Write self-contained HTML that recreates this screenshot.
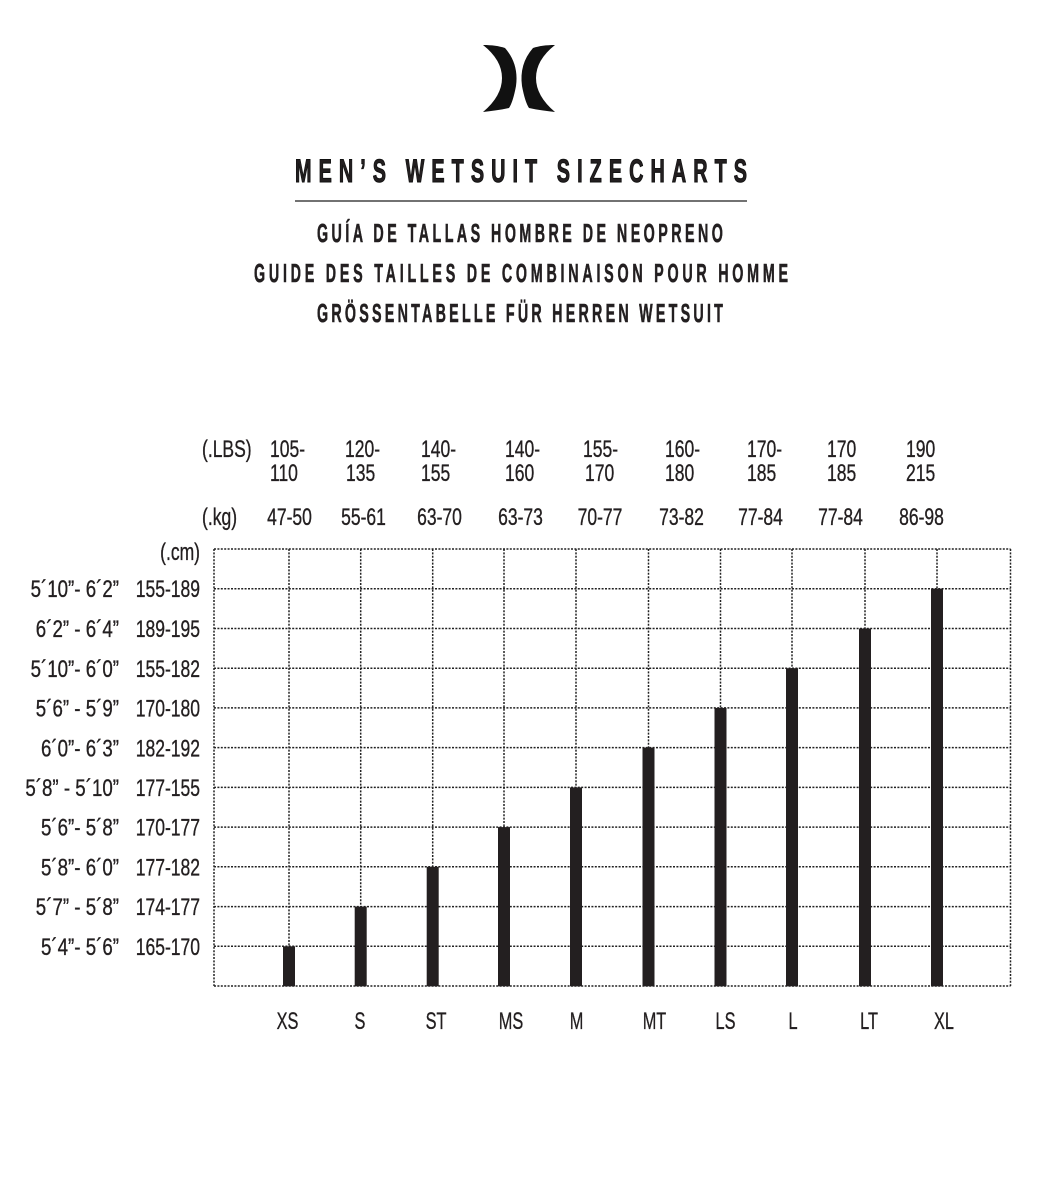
<!DOCTYPE html>
<html><head><meta charset="utf-8"><style>
html,body{margin:0;padding:0;background:#fff;}
svg{display:block;}
text{font-family:"Liberation Sans",Arial,sans-serif;fill:#231f20;}
.t{font-size:24px;stroke:#231f20;stroke-width:0.35px;}
</style></head><body>
<svg width="1037" height="1200" viewBox="0 0 1037 1200" xmlns="http://www.w3.org/2000/svg">
<rect width="1037" height="1200" fill="#fff"/>
<!-- logo -->
<path d="M483,45 C492,45 499,46 505,48 Q519,64 516,86 Q513,102 509,108 C500,110 491,111 483,112 Q502,96 502,78 Q502,60 483,45 Z" fill="#111"/>
<path d="M555,45 C546,45 539,46 533,48 Q519,64 522,86 Q525,102 529,108 C538,110 547,111 555,112 Q536,96 536,78 Q536,60 555,45 Z" fill="#111"/>
<!-- title -->
<text transform="translate(295,182) scale(0.62,1)" x="0" y="0" font-size="32" font-weight="bold" stroke="#111" stroke-width="1" textLength="729" lengthAdjust="spacing">MEN’S WETSUIT SIZECHARTS</text>
<line x1="295" y1="201" x2="747" y2="201" stroke="#444" stroke-width="1.6"/>
<text transform="translate(317,242) scale(0.55,1)" x="0" y="0" font-size="26" font-weight="bold" stroke="#231f20" stroke-width="0.6" textLength="738" lengthAdjust="spacing">GUÍA DE TALLAS HOMBRE DE NEOPRENO</text>
<text transform="translate(254,282) scale(0.55,1)" x="0" y="0" font-size="26" font-weight="bold" stroke="#231f20" stroke-width="0.6" textLength="971" lengthAdjust="spacing">GUIDE DES TAILLES DE COMBINAISON POUR HOMME</text>
<text transform="translate(317,322) scale(0.55,1)" x="0" y="0" font-size="26" font-weight="bold" stroke="#231f20" stroke-width="0.6" textLength="738" lengthAdjust="spacing">GRÖSSENTABELLE FÜR HERREN WETSUIT</text>

<!-- grid -->
<g stroke="#222" stroke-width="1.5" stroke-dasharray="2 1.4" fill="none">
<line x1="214" y1="549" x2="1010.5" y2="549"/>
<line x1="214" y1="588.7" x2="1010.5" y2="588.7"/>
<line x1="214" y1="628.5" x2="1010.5" y2="628.5"/>
<line x1="214" y1="668.2" x2="1010.5" y2="668.2"/>
<line x1="214" y1="707.9" x2="1010.5" y2="707.9"/>
<line x1="214" y1="747.6" x2="1010.5" y2="747.6"/>
<line x1="214" y1="787.4" x2="1010.5" y2="787.4"/>
<line x1="214" y1="827.1" x2="1010.5" y2="827.1"/>
<line x1="214" y1="866.8" x2="1010.5" y2="866.8"/>
<line x1="214" y1="906.6" x2="1010.5" y2="906.6"/>
<line x1="214" y1="946.3" x2="1010.5" y2="946.3"/>
<line x1="214" y1="986" x2="1010.5" y2="986"/>
<line x1="214" y1="549" x2="214" y2="986"/>
<line x1="289" y1="549" x2="289" y2="986"/>
<line x1="360.7" y1="549" x2="360.7" y2="986"/>
<line x1="432.7" y1="549" x2="432.7" y2="986"/>
<line x1="504" y1="549" x2="504" y2="986"/>
<line x1="576" y1="549" x2="576" y2="986"/>
<line x1="648.5" y1="549" x2="648.5" y2="986"/>
<line x1="720.5" y1="549" x2="720.5" y2="986"/>
<line x1="792" y1="549" x2="792" y2="986"/>
<line x1="865" y1="549" x2="865" y2="986"/>
<line x1="937" y1="549" x2="937" y2="986"/>
<line x1="1010.5" y1="549" x2="1010.5" y2="986"/>
</g>

<!-- bars -->
<g fill="#231f20">
<rect x="283" y="946.3" width="12" height="40"/>
<rect x="354.7" y="906.6" width="12" height="79.7"/>
<rect x="426.7" y="866.8" width="12" height="119.5"/>
<rect x="498" y="827.1" width="12" height="159.2"/>
<rect x="570" y="787.4" width="12" height="198.9"/>
<rect x="642.5" y="747.6" width="12" height="238.7"/>
<rect x="714.5" y="707.9" width="12" height="278.4"/>
<rect x="786" y="668.2" width="12" height="318.1"/>
<rect x="859" y="628.5" width="12" height="357.8"/>
<rect x="931" y="588.7" width="12" height="397.6"/>
</g>

<!-- LBS row -->
<g class="t">
<text transform="translate(202,457) scale(0.73,1)">(.LBS)</text>
<text transform="translate(270,457) scale(0.73,1)">105-</text>
<text transform="translate(270,481) scale(0.73,1)">110</text>
<text transform="translate(345,457) scale(0.73,1)">120-</text>
<text transform="translate(346,481) scale(0.73,1)">135</text>
<text transform="translate(421,457) scale(0.73,1)">140-</text>
<text transform="translate(421,481) scale(0.73,1)">155</text>
<text transform="translate(505,457) scale(0.73,1)">140-</text>
<text transform="translate(505,481) scale(0.73,1)">160</text>
<text transform="translate(583,457) scale(0.73,1)">155-</text>
<text transform="translate(585,481) scale(0.73,1)">170</text>
<text transform="translate(665,457) scale(0.73,1)">160-</text>
<text transform="translate(665,481) scale(0.73,1)">180</text>
<text transform="translate(747,457) scale(0.73,1)">170-</text>
<text transform="translate(747,481) scale(0.73,1)">185</text>
<text transform="translate(827,457) scale(0.73,1)">170</text>
<text transform="translate(827,481) scale(0.73,1)">185</text>
<text transform="translate(906,457) scale(0.73,1)">190</text>
<text transform="translate(906,481) scale(0.73,1)">215</text>
</g>

<!-- kg row -->
<g class="t" text-anchor="middle">
<text transform="translate(202,525) scale(0.73,1)" text-anchor="start">(.kg)</text>
<text transform="translate(289.5,525) scale(0.73,1)">47-50</text>
<text transform="translate(363.5,525) scale(0.73,1)">55-61</text>
<text transform="translate(439.5,525) scale(0.73,1)">63-70</text>
<text transform="translate(520.5,525) scale(0.73,1)">63-73</text>
<text transform="translate(600,525) scale(0.73,1)">70-77</text>
<text transform="translate(681.5,525) scale(0.73,1)">73-82</text>
<text transform="translate(760.5,525) scale(0.73,1)">77-84</text>
<text transform="translate(840.5,525) scale(0.73,1)">77-84</text>
<text transform="translate(921.5,525) scale(0.73,1)">86-98</text>
</g>

<!-- left labels -->
<g class="t" text-anchor="end">
<text transform="translate(200,560) scale(0.73,1)">(.cm)</text>
<text transform="translate(119,597) scale(0.78,1)">5´10”- 6´2”</text>
<text transform="translate(200,597) scale(0.73,1)">155-189</text>
<text transform="translate(119,637) scale(0.78,1)">6´2” - 6´4”</text>
<text transform="translate(200,637) scale(0.73,1)">189-195</text>
<text transform="translate(119,677) scale(0.78,1)">5´10”- 6´0”</text>
<text transform="translate(200,677) scale(0.73,1)">155-182</text>
<text transform="translate(119,716.5) scale(0.78,1)">5´6” - 5´9”</text>
<text transform="translate(200,716.5) scale(0.73,1)">170-180</text>
<text transform="translate(119,756.5) scale(0.78,1)">6´0”- 6´3”</text>
<text transform="translate(200,756.5) scale(0.73,1)">182-192</text>
<text transform="translate(119,796) scale(0.78,1)">5´8” - 5´10”</text>
<text transform="translate(200,796) scale(0.73,1)">177-155</text>
<text transform="translate(119,835.5) scale(0.78,1)">5´6”- 5´8”</text>
<text transform="translate(200,835.5) scale(0.73,1)">170-177</text>
<text transform="translate(119,875.5) scale(0.78,1)">5´8”- 6´0”</text>
<text transform="translate(200,875.5) scale(0.73,1)">177-182</text>
<text transform="translate(119,915) scale(0.78,1)">5´7” - 5´8”</text>
<text transform="translate(200,915) scale(0.73,1)">174-177</text>
<text transform="translate(119,955) scale(0.78,1)">5´4”- 5´6”</text>
<text transform="translate(200,955) scale(0.73,1)">165-170</text>
</g>

<!-- bottom size labels -->
<g class="t" text-anchor="middle">
<text transform="translate(287.5,1029) scale(0.68,1)">XS</text>
<text transform="translate(360,1029) scale(0.68,1)">S</text>
<text transform="translate(436,1029) scale(0.68,1)">ST</text>
<text transform="translate(511,1029) scale(0.68,1)">MS</text>
<text transform="translate(576.5,1029) scale(0.68,1)">M</text>
<text transform="translate(654.5,1029) scale(0.68,1)">MT</text>
<text transform="translate(725.5,1029) scale(0.68,1)">LS</text>
<text transform="translate(793,1029) scale(0.68,1)">L</text>
<text transform="translate(869,1029) scale(0.68,1)">LT</text>
<text transform="translate(944,1029) scale(0.68,1)">XL</text>
</g>
</svg>
</body></html>
